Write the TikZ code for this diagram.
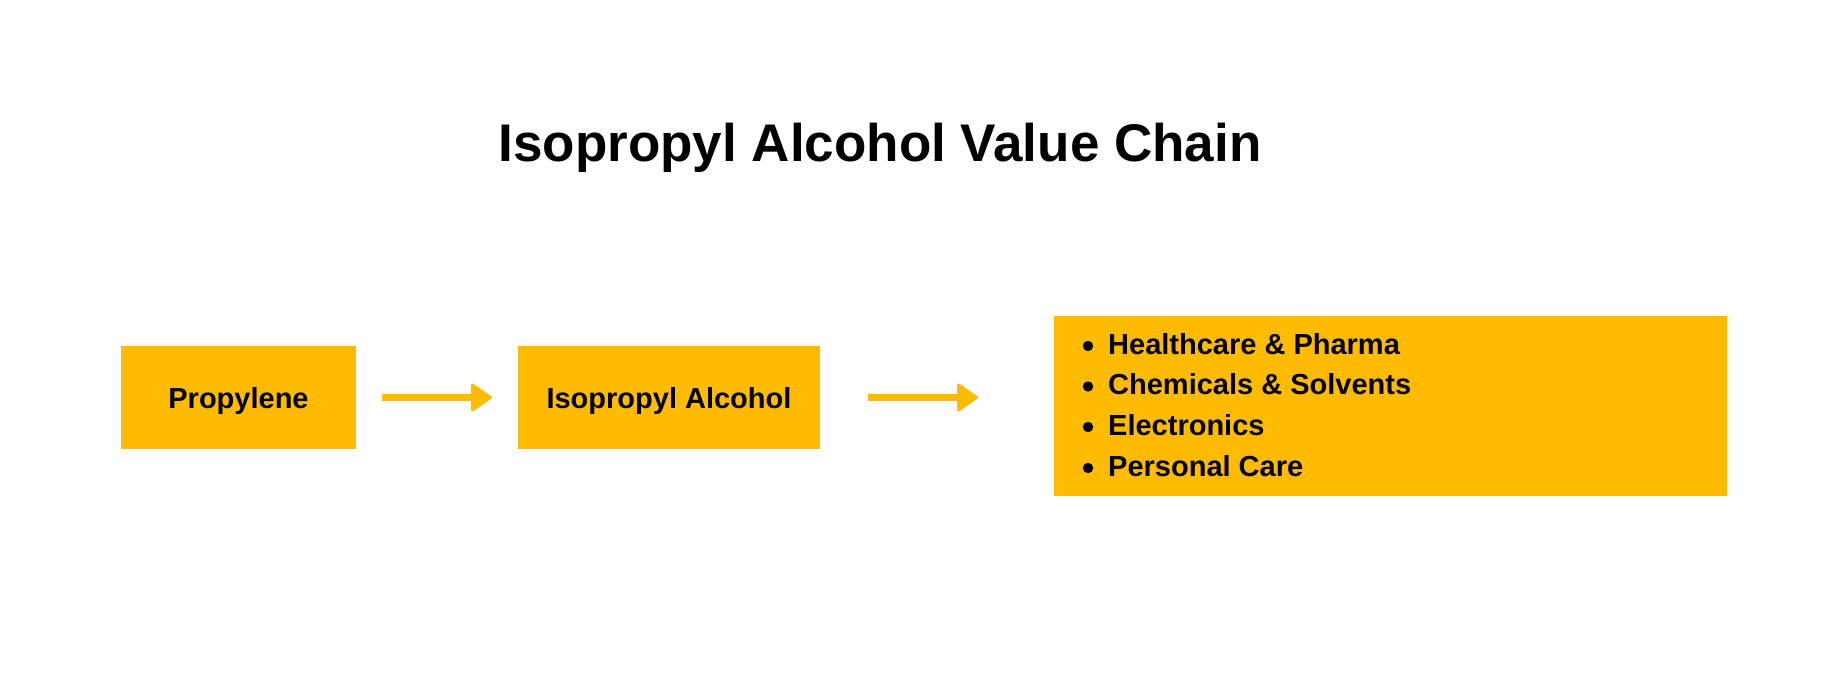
\documentclass[tikz,border=0pt]{standalone}
\usepackage{fontspec}
\setmainfont{Liberation Sans}
\usetikzlibrary{arrows.meta}
\definecolor{amber}{RGB}{255,187,0}
\begin{document}
\begin{tikzpicture}[x=1pt,y=-1pt,
  box/.style={fill=amber, draw=none, inner sep=0pt, font=\bfseries\fontsize{29}{35}\selectfont, text height=21pt, text depth=0pt},
  flow/.style={draw=amber, line width=7pt, -{Triangle[length=22pt,width=30pt,round,line width=3pt]}},
  item/.style={anchor=base west, inner sep=0pt, font=\bfseries\fontsize{29}{35}\selectfont},
  dot/.style={fill=black}]
\useasboundingbox (0,0) rectangle (1835,676);
\node[anchor=base, inner sep=0pt, font=\bfseries\fontsize{53}{64}\selectfont] (title) at (880,162) {Isopropyl Alcohol Value Chain};
\node[box, minimum width=235pt, minimum height=103pt] (prop) at (238.5,397.5) {Propylene};
\node[box, minimum width=302pt, minimum height=103pt] (ipa) at (669,397.5) {Isopropyl Alcohol};
\node[fill=amber, inner sep=0pt, minimum width=673pt, minimum height=180pt, anchor=north west] (apps) at (1054,316) {};
\node[item] (l1) at (1108,354) {Healthcare \& Pharma};
\node[item] (l2) at (1108,394.5) {Chemicals \& Solvents};
\node[item] (l3) at (1108,435) {Electronics};
\node[item] (l4) at (1108,476) {Personal Care};
\foreach \n in {l1,l2,l3,l4}{
  \fill[dot] ([xshift=-20pt,yshift=8pt]\n.base west) circle (5.2pt);
}
\draw[flow] ([xshift=26pt]prop.east) -- ([xshift=-26pt]ipa.west);
\draw[flow] ([xshift=48pt]ipa.east) -- ([xshift=-76pt]ipa.east -| apps.west);
\end{tikzpicture}
\end{document}
